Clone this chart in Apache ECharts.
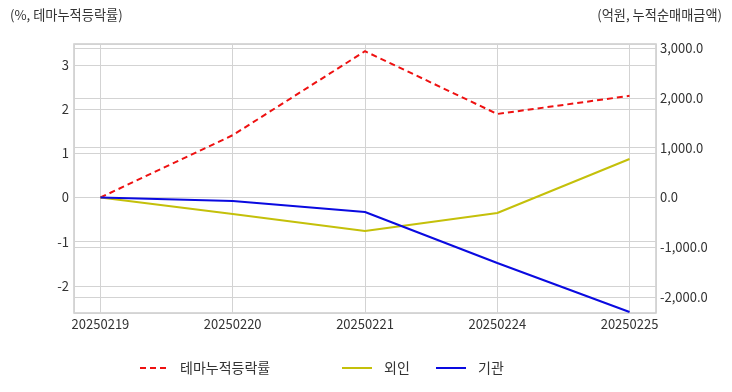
<!DOCTYPE html>
<html>
<head>
<meta charset="utf-8">
<script src="https://cdn.jsdelivr.net/npm/echarts@6/dist/echarts.min.js"></script>
<style>
html,body{margin:0;padding:0;background:#fff;}
#main{width:732px;height:392px;}
</style>
</head>
<body>
<div id="main"></div>
<script>
var categories = ['20250219', '20250220', '20250221', '20250224', '20250225'];
var themeRate = [0, 1.41, 3.31, 1.89, 2.30];
var foreign = [0, -332, -673, -312, 774];
var institution = [0, -70, -291, -1317, -2302];
var seriesNames = ['테마누적등락률', '외인', '기관'];
var leftTitle = '(%, 테마누적등락률)';
var rightTitle = '(억원, 누적순매매금액)';

function pairs(arr) { return arr.map(function (v, i) { return [i, v]; }); }

var FONT = '"Noto Sans CJK KR", "Noto Sans", sans-serif';
var chart = echarts.init(document.getElementById('main'), null, { renderer: 'canvas' });
var gridColor = '#d3d3d3';
function legendCfg(name, left, w) {
  return {
    data: [name], left: left, top: 361, padding: 0, itemWidth: w, itemHeight: 10,
    itemStyle: { opacity: 0 },
    textStyle: { fontSize: 14, color: '#333', fontFamily: FONT, padding: [0, 0, 0, 7] }
  };
}
chart.setOption({
  animation: false,
  backgroundColor: '#fff',
  textStyle: { fontFamily: FONT },
  graphic: [
    { type: 'text', left: 10, top: 8, style: { text: leftTitle, fill: '#333', font: '13.2px ' + FONT } },
    { type: 'text', right: 10, top: 8, style: { text: rightTitle, fill: '#333', font: '13.2px ' + FONT } }
  ],
  grid: { left: 74, right: 76, top: 44, bottom: 79, show: true, borderColor: '#cccccc', borderWidth: 1.5 },
  legend: [
    legendCfg(seriesNames[0], 139, 28),
    legendCfg(seriesNames[1], 341, 30),
    legendCfg(seriesNames[2], 435, 30)
  ],
  xAxis: {
    type: 'value', min: -0.2, max: 4.2, splitNumber: 5,
    axisLine: { show: false }, axisTick: { show: false },
    splitLine: { show: true, lineStyle: { color: gridColor } },
    axisLabel: {
      color: '#333', fontSize: 13, margin: 5, showMinLabel: false, showMaxLabel: false,
      formatter: function (v) { return (Math.abs(v - Math.round(v)) < 1e-6 && categories[Math.round(v)]) ? categories[Math.round(v)] : ''; }
    }
  },
  yAxis: [
    {
      type: 'value', min: -2.613, max: 3.473, splitNumber: 6,
      axisLine: { show: false }, axisTick: { show: false },
      splitLine: { show: true, lineStyle: { color: gridColor } },
      axisLabel: { color: '#333', fontSize: 13, margin: 5, showMinLabel: false, showMaxLabel: false }
    },
    {
      type: 'value', min: -2322, max: 3085, splitNumber: 5,
      axisLine: { show: false }, axisTick: { show: false },
      splitLine: { show: true, lineStyle: { color: gridColor } },
      axisLabel: {
        color: '#333', fontSize: 13, margin: 4, showMinLabel: false, showMaxLabel: false,
        formatter: function (v) { return v.toLocaleString('en-US', { minimumFractionDigits: 1, maximumFractionDigits: 1 }); }
      }
    }
  ],
  series: [
    { name: seriesNames[0], type: 'line', yAxisIndex: 0, data: pairs(themeRate), symbol: 'none', color: '#ee1111', lineStyle: { width: 2, type: [6, 4], color: '#ee1111' } },
    { name: seriesNames[1], type: 'line', yAxisIndex: 1, data: pairs(foreign), symbol: 'none', color: '#c4c00a', lineStyle: { width: 2, color: '#c4c00a' } },
    { name: seriesNames[2], type: 'line', yAxisIndex: 1, data: pairs(institution), symbol: 'none', color: '#0a0ae0', lineStyle: { width: 2, color: '#0a0ae0' } }
  ]
});
</script>
</body>
</html>
